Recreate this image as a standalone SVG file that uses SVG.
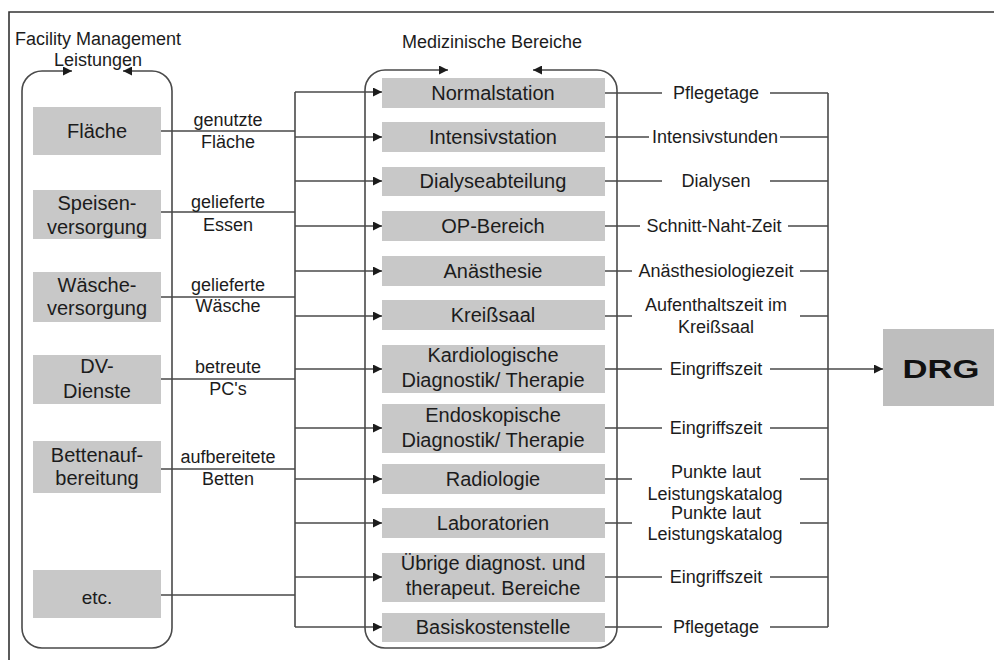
<svg xmlns="http://www.w3.org/2000/svg" width="994" height="660" viewBox="0 0 994 660">
<defs>
<style>
text{font-family:"Liberation Sans",Arial,sans-serif;fill:#1c1c1c;text-anchor:middle}
.bt{font-size:20px}
.lt{font-size:18px}
.box{fill:#c8c8c8}
.ln{fill:none;stroke:#4a4a4a;stroke-width:1.6}
.fr{fill:none;stroke:#333;stroke-width:1.6}
</style>
<marker id="ah" viewBox="0 0 10 10" refX="10" refY="5" markerWidth="9" markerHeight="9" markerUnits="userSpaceOnUse" orient="auto-start-reverse">
<path d="M0,0 L10,5 L0,10 Z" fill="#1c1c1c"/>
</marker>
</defs>
<rect width="994" height="660" fill="#fff"/>
<path class="fr" d="M9,660 L9,12 L994,12"/>

<g id="fm-container">
<path class="ln" d="M72,71 L42,71 A20,20 0 0 0 22,91 L22,628 A20,20 0 0 0 42,648 L152,648 A20,20 0 0 0 172,628 L172,91 A20,20 0 0 0 152,71 L123,71" marker-start="url(#ah)" marker-end="url(#ah)"/>
<text class="lt" x="98" y="45">Facility Management</text>
<text class="lt" x="98" y="66">Leistungen</text>
</g>
<g id="med-container">
<path class="ln" d="M448,70 L385,70 A20,20 0 0 0 365,90 L365,628 A20,20 0 0 0 385,648 L597,648 A20,20 0 0 0 617,628 L617,90 A20,20 0 0 0 597,70 L533,70" marker-start="url(#ah)" marker-end="url(#ah)"/>
<text class="lt" x="492" y="48">Medizinische Bereiche</text>
</g>

<g id="connectors">
<path class="ln" d="M161,131 H295 M161,212 H295 M161,297 H295 M161,379 H295 M161,469 H295 M161,595 H295 M295,92 V627"/>
<g marker-end="url(#ah)">
<path class="ln" d="M295,92 H382"/>
<path class="ln" d="M295,137 H382"/>
<path class="ln" d="M295,181 H382"/>
<path class="ln" d="M295,226 H382"/>
<path class="ln" d="M295,271 H382"/>
<path class="ln" d="M295,316 H382"/>
<path class="ln" d="M295,369 H382"/>
<path class="ln" d="M295,428 H382"/>
<path class="ln" d="M295,479 H382"/>
<path class="ln" d="M295,523 H382"/>
<path class="ln" d="M295,577 H382"/>
<path class="ln" d="M295,627 H382"/>
</g>
<path class="ln" d="M605,93 H662 M770,93 H828
M605,137 H649 M780,137 H828
M605,181 H662 M770,181 H828
M605,226 H640 M788,226 H828
M605,271 H632 M800,271 H828
M605,316 H632 M800,316 H828
M605,369 H662
M605,428 H662 M770,428 H828
M605,479 H632 M800,479 H828
M605,523 H632 M800,523 H828
M605,577 H662 M770,577 H828
M605,627 H662 M770,627 H828
M828,93 V627"/>
<path class="ln" d="M770,369 H883" marker-end="url(#ah)"/>
</g>

<g id="fm-labels">
<text class="lt" x="228" y="126">genutzte</text>
<text class="lt" x="228" y="148">Fläche</text>
<text class="lt" x="228" y="208">gelieferte</text>
<text class="lt" x="228" y="231">Essen</text>
<text class="lt" x="228" y="291">gelieferte</text>
<text class="lt" x="228" y="312">Wäsche</text>
<text class="lt" x="228" y="373">betreute</text>
<text class="lt" x="228" y="395">PC's</text>
<text class="lt" x="228" y="463">aufbereitete</text>
<text class="lt" x="228" y="485">Betten</text>
</g>

<g id="flaeche"><rect class="box" x="33" y="107" width="128" height="48"/><text class="bt" x="97" y="138">Fläche</text></g>
<g id="speisen"><rect class="box" x="33" y="190" width="128" height="49"/><text class="bt" x="97" y="210">Speisen-</text><text class="bt" x="97" y="234">versorgung</text></g>
<g id="waesche"><rect class="box" x="33" y="272" width="128" height="50"/><text class="bt" x="97" y="292">Wäsche-</text><text class="bt" x="97" y="315">versorgung</text></g>
<g id="dv"><rect class="box" x="33" y="355" width="128" height="49"/><text class="bt" x="97" y="373">DV-</text><text class="bt" x="97" y="398">Dienste</text></g>
<g id="betten"><rect class="box" x="33" y="441" width="128" height="52"/><text class="bt" x="97" y="462">Bettenauf-</text><text class="bt" x="97" y="485">bereitung</text></g>
<g id="etc"><rect class="box" x="33" y="570" width="128" height="48"/><text class="bt" x="97" y="604" style="font-size:19px">etc.</text></g>

<g id="normalstation"><rect class="box" x="382" y="78" width="223" height="30"/><text class="bt" x="493" y="100">Normalstation</text></g>
<g id="intensivstation"><rect class="box" x="382" y="122" width="223" height="30"/><text class="bt" x="493" y="144">Intensivstation</text></g>
<g id="dialyse"><rect class="box" x="382" y="167" width="223" height="29"/><text class="bt" x="493" y="188">Dialyseabteilung</text></g>
<g id="op"><rect class="box" x="382" y="211" width="223" height="30"/><text class="bt" x="493" y="233">OP-Bereich</text></g>
<g id="anaesthesie"><rect class="box" x="382" y="256" width="223" height="30"/><text class="bt" x="493" y="278">Anästhesie</text></g>
<g id="kreisssaal"><rect class="box" x="382" y="300" width="223" height="30"/><text class="bt" x="493" y="322">Kreißsaal</text></g>
<g id="kardio"><rect class="box" x="382" y="345" width="223" height="48"/><text class="bt" x="493" y="362">Kardiologische</text><text class="bt" x="493" y="387">Diagnostik/ Therapie</text></g>
<g id="endo"><rect class="box" x="382" y="404" width="223" height="49"/><text class="bt" x="493" y="422">Endoskopische</text><text class="bt" x="493" y="447">Diagnostik/ Therapie</text></g>
<g id="radiologie"><rect class="box" x="382" y="464" width="223" height="30"/><text class="bt" x="493" y="486">Radiologie</text></g>
<g id="labor"><rect class="box" x="382" y="508" width="223" height="30"/><text class="bt" x="493" y="530">Laboratorien</text></g>
<g id="uebrige"><rect class="box" x="382" y="553" width="223" height="49"/><text class="bt" x="493" y="570">Übrige diagnost. und</text><text class="bt" x="493" y="595">therapeut. Bereiche</text></g>
<g id="basis"><rect class="box" x="382" y="613" width="223" height="29"/><text class="bt" x="493" y="634">Basiskostenstelle</text></g>

<g id="measures">
<text class="lt" x="716" y="99">Pflegetage</text>
<text class="lt" x="715" y="143">Intensivstunden</text>
<text class="lt" x="716" y="187">Dialysen</text>
<text class="lt" x="714" y="232">Schnitt-Naht-Zeit</text>
<text class="lt" x="716" y="277">Anästhesiologiezeit</text>
<text class="lt" x="716" y="311">Aufenthaltszeit im</text>
<text class="lt" x="716" y="333">Kreißsaal</text>
<text class="lt" x="716" y="375">Eingriffszeit</text>
<text class="lt" x="716" y="434">Eingriffszeit</text>
<text class="lt" x="716" y="478">Punkte laut</text>
<text class="lt" x="715" y="500">Leistungskatalog</text>
<text class="lt" x="716" y="519">Punkte laut</text>
<text class="lt" x="715" y="540">Leistungskatalog</text>
<text class="lt" x="716" y="583">Eingriffszeit</text>
<text class="lt" x="716" y="633">Pflegetage</text>
</g>

<g id="drg"><rect x="883" y="329" width="111" height="77" fill="#bebebe"/><text x="941" y="378" style="font-size:26px;font-weight:bold;fill:#111" textLength="77" lengthAdjust="spacingAndGlyphs">DRG</text></g>
</svg>
